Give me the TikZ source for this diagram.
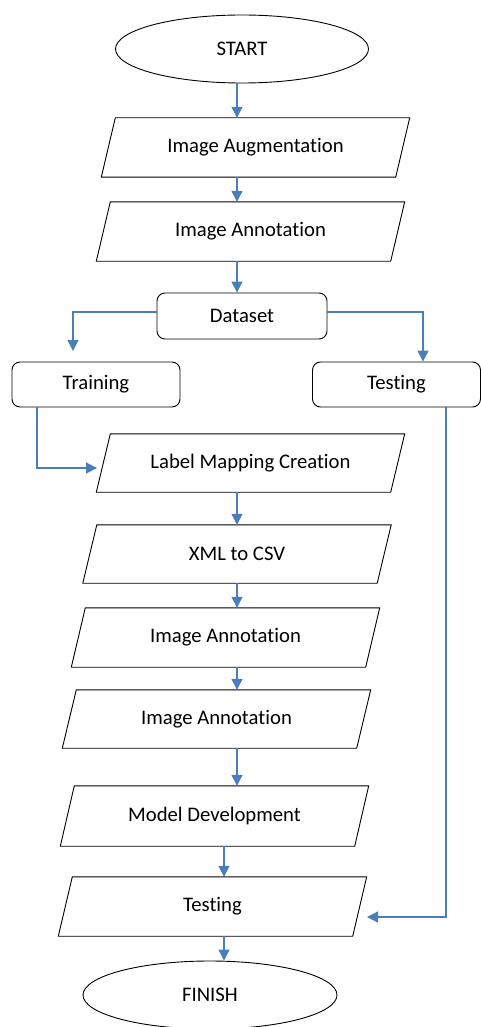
\documentclass[tikz,border=0pt]{standalone}
\usepackage{fontspec}
\setmainfont[Ligatures={NoCommon}]{Carlito}
\usetikzlibrary{arrows.meta,shapes.geometric}
\definecolor{conn}{HTML}{4A7EBB}
\newcommand\drawpara[1]{\draw[shapeline] ([xshift=7pt]#1.north west) -- ([xshift=7pt]#1.north east) -- ([xshift=-7pt]#1.south east) -- ([xshift=-7pt]#1.south west) -- cycle;}
\tikzset{
  shapeline/.style={draw=black, line width=0.9pt},
  txt/.style={font=\fontsize{20.7pt}{24pt}\selectfont, text=black},
  terminal/.style={txt, ellipse, shapeline, minimum width=253pt, minimum height=68pt, inner sep=0pt},
  parabox/.style={txt, rectangle, inner sep=0pt, minimum width=294pt, minimum height=59pt},
  roundbox/.style={txt, rectangle, rounded corners=8pt, shapeline, inner sep=0pt, minimum width=168pt, minimum height=45pt},
  arr/.style={draw=conn, line width=1.2pt, -{Triangle[length=11pt,width=11pt]}}
}
\begin{document}
\begin{tikzpicture}[x=1pt,y=-1pt]
\useasboundingbox[fill=white] (0,0) rectangle (481,1027);
\coordinate (c1) at (237,0);
\coordinate (c2) at (224,0);
\node[terminal] (start) at (242,49) {START};
\node[parabox] (aug) at (255.5,147.5) {Image Augmentation};
\node[parabox] (ann1) at (250.5,231.5) {Image Annotation};
\node[roundbox, minimum width=170pt, minimum height=46pt] (dataset) at (242,316) {Dataset};
\node[roundbox] (training) at (96,384.5) {Training};
\node[roundbox] (testing) at (396.5,384.5) {Testing};
\node[parabox, minimum height=58pt] (label) at (250.5,463) {Label Mapping Creation};
\node[parabox, minimum height=58pt] (xml) at (237,554) {XML to CSV};
\node[parabox] (ann2) at (225.5,637.5) {Image Annotation};
\node[parabox, minimum height=58pt] (ann3) at (216.5,719) {Image Annotation};
\node[parabox, minimum height=60pt] (model) at (214.5,816) {Model Development};
\node[parabox] (test2) at (212.5,906.5) {Testing};
\node[terminal, minimum width=254pt] (finish) at (210,995) {FINISH};
\drawpara{aug}
\drawpara{ann1}
\drawpara{label}
\drawpara{xml}
\drawpara{ann2}
\drawpara{ann3}
\drawpara{model}
\drawpara{test2}
\coordinate (ttip) at (73,351);
\coordinate (ltip) at (97,468);
\coordinate (rtip) at (367,917);
\draw[arr] (start.south -| c1) -- (aug.north -| c1);
\draw[arr] (aug.south -| c1) -- (ann1.north -| c1);
\draw[arr] (ann1.south -| c1) -- (dataset.north -| c1);
\draw[arr] ([yshift=4pt]dataset.west) -| (ttip);
\draw[arr] ([yshift=4pt]dataset.east) -| ([xshift=26.5pt]testing.north);
\draw[arr] ([xshift=-59pt]training.south) |- (ltip);
\draw[arr] (label.south -| c1) -- (xml.north -| c1);
\draw[arr] (xml.south -| c1) -- (ann2.north -| c1);
\draw[arr] (ann2.south -| c1) -- (ann3.north -| c1);
\draw[arr] (ann3.south -| c1) -- (model.north -| c1);
\draw[arr] (model.south -| c2) -- (test2.north -| c2);
\draw[arr] (test2.south -| c2) -- (finish.north -| c2);
\draw[arr] ([xshift=49.5pt]testing.south) |- (rtip);
\end{tikzpicture}
\end{document}
